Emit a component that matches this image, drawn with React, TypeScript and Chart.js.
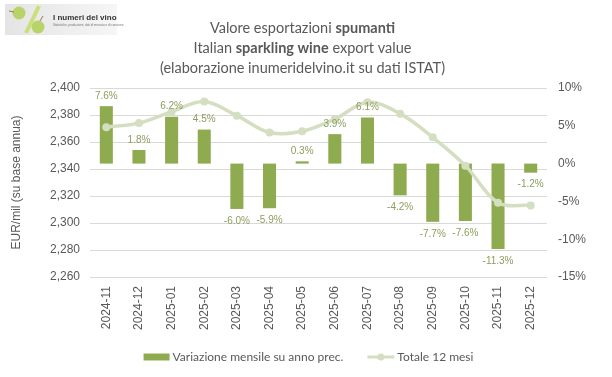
import React, { useEffect, useRef } from 'react';
import { Chart, registerables } from 'chart.js';

Chart.register(...registerables);

const categories = [
  '2024-11', '2024-12', '2025-01', '2025-02', '2025-03', '2025-04', '2025-05',
  '2025-06', '2025-07', '2025-08', '2025-09', '2025-10', '2025-11', '2025-12',
];
const monthlyChange = [7.6, 1.8, 6.2, 4.5, -6.0, -5.9, 0.3, 3.9, 6.1, -4.2, -7.7, -7.6, -11.3, -1.2];
const total12m = [2371, 2374, 2382.5, 2390, 2379.5, 2367, 2368, 2377, 2389.5, 2381, 2363.5, 2342.5, 2315, 2313];

const leftMin = 2260;
const leftMax = 2400;
const leftStep = 20;
const rightMin = -15;
const rightMax = 10;
const rightStep = 5;

const seriesBarLabel = 'Variazione mensile su anno prec.';
const seriesLineLabel = 'Totale 12 mesi';
const leftAxisTitle = 'EUR/mil (su base annua)';

const titleLines: [string, boolean][][] = [
  [['Valore esportazioni ', false], ['spumanti', true]],
  [['Italian ', false], ['sparkling wine', true], [' export value', false]],
  [['(elaborazione inumeridelvino.it su dati ISTAT)', false]],
];

const BAR_COLOR = '#8fab50';
const LINE_COLOR = '#d3dfc0';
const LABEL_COLOR = '#8d9d5e';
const TEXT_COLOR = '#595959';
const GRID_COLOR = '#d9d9d9';
const TITLE_FONT = 'Lato, "Open Sans", sans-serif';
const AXIS_FONT = '"Liberation Sans", Arial, sans-serif';

const titlePlugin = {
  id: 'titleAndLogo',
  afterDraw(chart: any) {
    const ctx = chart.ctx as CanvasRenderingContext2D;
    ctx.save();
    // Title
    const cx = 302.5;
    const ys = [28, 48, 68];
    ctx.textBaseline = 'middle';
    ctx.fillStyle = TEXT_COLOR;
    titleLines.forEach((segs, li) => {
      let total = 0;
      const widths = segs.map(([t, b]) => {
        ctx.font = `${b ? 'bold ' : ''}14.5px ${TITLE_FONT}`;
        const w = ctx.measureText(t).width;
        total += w;
        return w;
      });
      let x = cx - total / 2;
      ctx.textAlign = 'left';
      segs.forEach(([t, b], i) => {
        ctx.font = `${b ? 'bold ' : ''}14.5px ${TITLE_FONT}`;
        ctx.fillText(t, x, ys[li]);
        x += widths[i];
      });
    });

    // Logo
    const g = ctx.createLinearGradient(5, 0, 117, 0);
    g.addColorStop(0, '#e4e4e4');
    g.addColorStop(1, '#f6f6f6');
    ctx.fillStyle = g;
    ctx.fillRect(5, 4, 112, 31);
    ctx.fillStyle = '#b8d36a';
    ctx.beginPath();
    ctx.arc(19, 13, 6.5, 0, Math.PI * 2);
    ctx.fill();
    ctx.beginPath();
    ctx.arc(38, 27, 6.5, 0, Math.PI * 2);
    ctx.fill();
    ctx.strokeStyle = '#c9e07a';
    ctx.lineWidth = 4;
    ctx.beginPath();
    ctx.moveTo(39, 6);
    ctx.lineTo(26, 33);
    ctx.stroke();
    ctx.strokeStyle = '#9a7a50';
    ctx.lineWidth = 1;
    ctx.beginPath();
    ctx.moveTo(9, 11); ctx.lineTo(14, 12);
    ctx.moveTo(40, 21); ctx.lineTo(43, 16);
    ctx.stroke();
    ctx.fillStyle = '#333333';
    ctx.font = `bold 8px ${AXIS_FONT}`;
    ctx.textAlign = 'left';
    ctx.textBaseline = 'alphabetic';
    ctx.fillText('I numeri del vino', 53, 20);
    ctx.fillStyle = '#777777';
    ctx.font = `3px ${AXIS_FONT}`;
    ctx.fillText('Statistiche, produzione, dati di mercato e di consumo', 53, 26);

    // Legend
    ctx.font = `12px ${TITLE_FONT}`;
    ctx.textBaseline = 'middle';
    const ly = 357;
    const w1 = ctx.measureText(seriesBarLabel).width;
    const w2 = ctx.measureText(seriesLineLabel).width;
    const totalW = 26 + 3 + w1 + 24 + 27 + 3 + w2;
    let x = 308.5 - totalW / 2;
    ctx.fillStyle = BAR_COLOR;
    ctx.fillRect(x, ly - 3.5, 26, 7);
    x += 29;
    ctx.fillStyle = TEXT_COLOR;
    ctx.fillText(seriesBarLabel, x, ly);
    x += w1 + 24;
    ctx.strokeStyle = LINE_COLOR;
    ctx.lineWidth = 3;
    ctx.beginPath();
    ctx.moveTo(x, ly);
    ctx.lineTo(x + 27, ly);
    ctx.stroke();
    ctx.fillStyle = LINE_COLOR;
    ctx.beginPath();
    ctx.arc(x + 13.5, ly, 3.5, 0, Math.PI * 2);
    ctx.fill();
    x += 30;
    ctx.fillStyle = TEXT_COLOR;
    ctx.fillText(seriesLineLabel, x, ly);
    ctx.restore();
  },
};

const barLabelPlugin = {
  id: 'barLabels',
  afterDatasetsDraw(chart: any) {
    const ctx = chart.ctx as CanvasRenderingContext2D;
    const meta = chart.getDatasetMeta(1);
    ctx.save();
    ctx.font = `10px ${AXIS_FONT}`;
    ctx.fillStyle = LABEL_COLOR;
    ctx.textAlign = 'center';
    meta.data.forEach((el: any, i: number) => {
      const v = monthlyChange[i];
      const txt = v.toFixed(1) + '%';
      if (v >= 0) {
        ctx.textBaseline = 'bottom';
        ctx.fillText(txt, el.x, el.y - 5);
      } else {
        ctx.textBaseline = 'top';
        ctx.fillText(txt, el.x, el.y + 7);
      }
    });
    ctx.restore();
  },
};

export default function App() {
  const ref = useRef<HTMLCanvasElement | null>(null);
  useEffect(() => {
    if (!ref.current) return;
    const chart = new Chart(ref.current, {
      data: {
        labels: categories,
        datasets: [
          {
            type: 'line',
            label: seriesLineLabel,
            data: total12m,
            yAxisID: 'y',
            borderColor: LINE_COLOR,
            backgroundColor: LINE_COLOR,
            borderWidth: 3.5,
            pointRadius: 4,
            pointBackgroundColor: LINE_COLOR,
            pointBorderWidth: 0,
            tension: 0.35,
            order: 0,
          } as any,
          {
            type: 'bar',
            label: seriesBarLabel,
            data: monthlyChange,
            yAxisID: 'y1',
            backgroundColor: BAR_COLOR,
            barPercentage: 0.4,
            categoryPercentage: 1,
            order: 1,
          } as any,
        ],
      },
      options: {
        responsive: false,
        animation: false,
        devicePixelRatio: 1,
        layout: { padding: { top: 88, bottom: 40, left: 0, right: 0 } },
        plugins: {
          legend: { display: false },
          title: { display: false },
          tooltip: { enabled: false },
        },
        scales: {
          x: {
            grid: { display: false, drawTicks: false },
            border: { display: false },
            ticks: {
              color: TEXT_COLOR,
              font: { family: AXIS_FONT, size: 12 },
              minRotation: 90,
              maxRotation: 90,
              padding: 9,
              autoSkip: false,
            },
            afterFit: (s: any) => { s.height = 60; },
          },
          y: {
            position: 'left',
            min: leftMin,
            max: leftMax,
            grid: { color: GRID_COLOR, drawTicks: false },
            border: { display: false },
            ticks: {
              stepSize: leftStep,
              color: TEXT_COLOR,
              padding: 10,
              font: { family: AXIS_FONT, size: 12 },
              callback: (v: any) => Number(v).toLocaleString('en-US'),
            },
            title: {
              display: true,
              text: leftAxisTitle,
              color: TEXT_COLOR,
              font: { family: AXIS_FONT, size: 12 },
              padding: { top: 9, bottom: 0 },
            },
            afterFit: (s: any) => { s.width = 90; },
          },
          y1: {
            position: 'right',
            min: rightMin,
            max: rightMax,
            grid: { display: false, drawTicks: false },
            border: { display: false },
            ticks: {
              stepSize: rightStep,
              color: TEXT_COLOR,
              padding: 11,
              font: { family: AXIS_FONT, size: 12 },
              callback: (v: any) => `${v}%`,
            },
            afterFit: (s: any) => { s.width = 65; },
          },
        },
      },
      plugins: [barLabelPlugin, titlePlugin],
    } as any);
    return () => chart.destroy();
  }, []);
  return (
    <div style={{ position: 'fixed', left: 0, top: 0, width: 612, height: 377, background: '#fff' }}>
      <canvas ref={ref} width={612} height={377} />
    </div>
  );
}
